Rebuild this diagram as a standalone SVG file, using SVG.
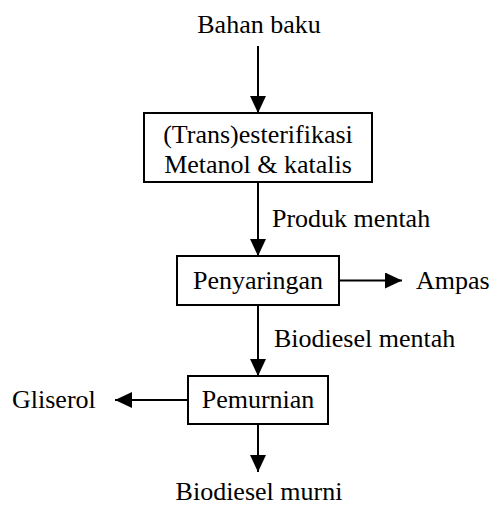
<svg xmlns="http://www.w3.org/2000/svg" width="492" height="506" viewBox="0 0 492 506">
<style>
text{font-family:"Liberation Serif","Times New Roman",serif;font-size:26px;fill:#000}
.box{fill:#fff;stroke:#000;stroke-width:2}
.ln{stroke:#000;stroke-width:2;fill:none}
.c{text-anchor:middle}
</style>
<defs>
<marker id="ah" viewBox="0 0 17 16" refX="17" refY="8" markerWidth="17" markerHeight="16" markerUnits="userSpaceOnUse" orient="auto">
<path d="M0,0 L17,8 L0,16 Z" fill="#000"/>
</marker>
</defs>
<rect width="492" height="506" fill="#fff"/>
<g id="connectors">
<line class="ln" x1="258" y1="46" x2="258" y2="113" marker-end="url(#ah)"/>
<line class="ln" x1="258" y1="182" x2="258" y2="256" marker-end="url(#ah)"/>
<line class="ln" x1="339" y1="280.5" x2="402" y2="280.5" marker-end="url(#ah)"/>
<line class="ln" x1="258" y1="305" x2="258" y2="376" marker-end="url(#ah)"/>
<line class="ln" x1="188" y1="400" x2="115" y2="400" marker-end="url(#ah)"/>
<line class="ln" x1="258" y1="424" x2="258" y2="472" marker-end="url(#ah)"/>
<text x="272" y="226.5">Produk mentah</text>
<text x="274" y="346.5">Biodiesel mentah</text>
</g>
<g id="input"><text class="c" x="259" y="33">Bahan baku</text></g>
<g id="esterifikasi">
<rect class="box" x="144" y="113" width="228" height="69"/>
<text class="c" x="258" y="143.3">(Trans)esterifikasi</text>
<text class="c" x="258" y="172.7">Metanol &amp; katalis</text>
</g>
<g id="penyaringan">
<rect class="box" x="177" y="256" width="162" height="49"/>
<text class="c" x="258" y="289.3">Penyaringan</text>
</g>
<g id="ampas"><text x="416" y="289.3">Ampas</text></g>
<g id="pemurnian">
<rect class="box" x="188" y="376" width="140" height="48"/>
<text class="c" x="258" y="408.3">Pemurnian</text>
</g>
<g id="gliserol"><text x="12" y="408.3">Gliserol</text></g>
<g id="output"><text class="c" x="259" y="499.5">Biodiesel murni</text></g>
</svg>
